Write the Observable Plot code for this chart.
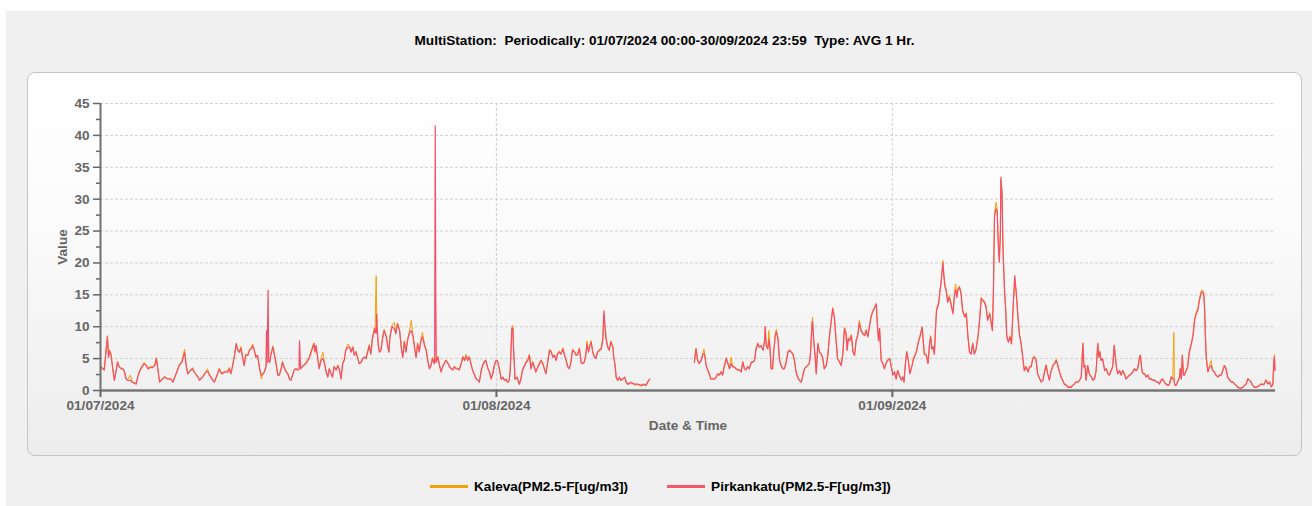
<!DOCTYPE html>
<html><head><meta charset="utf-8">
<script src="https://cdn.jsdelivr.net/npm/d3@7"></script>
<script src="https://cdn.jsdelivr.net/npm/@observablehq/plot@0.6"></script>
<style>
html,body{margin:0;padding:0;background:#fff;}
body{width:1312px;height:506px;position:relative;overflow:hidden;font-family:"Liberation Sans",Arial,sans-serif;}
#bg{position:absolute;left:6px;top:11px;width:1306px;height:495px;background:#f0f0f0;}
#title{position:absolute;left:27px;width:1275px;top:33px;text-align:center;font-weight:bold;font-size:13.6px;color:#000;white-space:pre;}
#panel{position:absolute;left:27px;top:72px;width:1273px;height:382px;border:1px solid #c4c4c4;border-radius:8px;background:linear-gradient(#ffffff 0%,#fbfbfb 40%,#ececec 100%);}
#chart{position:absolute;left:0;top:72px;}
#legend{position:absolute;left:430px;top:478px;height:16px;display:flex;align-items:center;font-weight:bold;font-size:13.6px;color:#000;white-space:pre;}
.sw{display:inline-block;width:38px;height:3px;margin-right:6px;}
</style></head>
<body>
<div id="bg"></div>
<div id="title">MultiStation:  Periodically: 01/07/2024 00:00-30/09/2024 23:59  Type: AVG 1 Hr.</div>
<div id="panel"></div>
<div id="chart"></div>
<div id="legend"><span class="sw" style="background:#f0a20b"></span><span>Kaleva(PM2.5-F[ug/m3])</span><span class="sw" style="background:#f4566c;margin-left:39px"></span><span>Pirkankatu(PM2.5-F[ug/m3])</span></div>
<script>
// hours since 01/07/2024 00:00
const hours = [
1,7,13,15,17,20,23,26,29,32,35,39,42,45,48,51,56,60,67,70,
73,76,82,86,89,94,98,102,105,107,111,114,120,126,132,136,142,148,153,158,
161,164,170,173,176,183,186,192,198,201,205,211,214,220,223,228,233,239,242,245,
248,252,255,258,261,264,267,270,273,277,280,283,286,289,292,295,299,302,305,308,
311,312,313,315,316,318,320,324,327,330,333,336,339,342,346,349,352,355,358,361,
364,367,371,373,374,376,380,386,392,397,401,403,405,408,411,414,418,421,424,427,
430,433,436,439,443,446,449,452,455,458,461,465,468,471,474,477,480,483,486,490,
493,496,499,502,505,508,511,515,516,518,519,520,522,524,527,530,533,537,540,542,
544,548,552,555,558,562,565,568,571,574,577,580,584,587,590,593,596,599,602,605,
609,612,615,618,621,624,627,628,629,630,631,634,637,640,643,646,649,652,656,659,
662,665,668,671,674,678,681,684,687,690,693,696,699,703,706,709,712,715,718,721,
724,728,731,734,737,740,743,746,750,753,756,759,762,765,768,770,773,775,776,779,
783,787,790,793,797,800,803,806,809,812,815,818,822,825,828,831,834,837,840,844,
847,850,853,856,859,862,865,869,872,875,878,881,884,887,891,894,897,900,903,906,
909,912,914,917,919,922,925,928,931,934,938,941,944,946,948,950,953,956,959,963,
964,967,969,972,975,978,981,985,988,991,997,1003,1010,1016,1022,1025,1028,1032,1074,
1116,1119,1122,1125,1129,1132,1134,1136,1138,1141,1144,1147,1154,1157,1160,1163,1166,1169,1172,1176,
1179,1182,1185,1188,1191,1194,1198,1201,1204,1207,1210,1213,1216,1219,1223,1226,1229,1232,1235,1238,
1241,1245,1248,1249,1251,1254,1256,1258,1260,1263,1265,1268,1270,1273,1276,1279,1282,1285,1288,1292,
1295,1298,1301,1304,1307,1310,1313,1317,1320,1323,1326,1329,1332,1334,1337,1338,1340,1343,1345,1348,
1351,1354,1357,1360,1364,1367,1370,1373,1376,1379,1382,1385,1389,1392,1395,1398,1401,1403,1405,1408,
1411,1414,1417,1420,1423,1426,1429,1432,1436,1439,1442,1445,1448,1451,1454,1458,1459,1462,1464,1467,
1470,1473,1476,1479,1483,1486,1489,1492,1495,1498,1501,1505,1508,1510,1512,1515,1518,1521,1525,1528,
1531,1534,1537,1540,1544,1546,1548,1552,1555,1558,1560,1562,1565,1567,1569,1571,1575,1577,1580,1583,
1585,1587,1589,1592,1595,1598,1602,1605,1607,1609,1611,1614,1617,1620,1624,1627,1630,1633,1636,1639,
1642,1645,1649,1652,1655,1658,1661,1664,1667,1671,1674,1676,1678,1680,1683,1685,1687,1689,1691,1692,
1694,1696,1699,1701,1703,1706,1709,1712,1715,1718,1721,1724,1727,1730,1733,1736,1739,1743,1746,1749,
1752,1755,1758,1761,1765,1768,1771,1774,1777,1780,1783,1786,1790,1793,1796,1799,1802,1805,1808,1811,
1815,1818,1824,1827,1830,1833,1837,1840,1843,1846,1848,1850,1852,1855,1858,1862,1865,1868,1871,1874,
1876,1878,1880,1883,1887,1890,1893,1896,1899,1902,1905,1907,1910,1912,1915,1918,1921,1924,1927,1930,
1934,1937,1940,1943,1946,1949,1952,1954,1957,1959,1962,1965,1968,1971,1974,1977,1981,1984,1987,1990,
1993,1996,1999,2002,2006,2009,2012,2015,2017,2018,2019,2021,2024,2028,2029,2031,2033,2035,2037,2040,
2043,2046,2050,2053,2056,2059,2062,2065,2068,2070,2073,2075,2076,2078,2081,2084,2087,2090,2093,2096,
2100,2103,2106,2109,2112,2115,2118,2122,2125,2128,2131,2134,2137,2140,2143,2147,2150,2153,2156,2159,
2162,2165,2168,2172,2175,2178,2181,2184,2187,2190,2194,2197,2200,2203,2205,2206,2207
];
const pirkankatu = [
3.6,3.2,8.4,5.2,6.2,5.5,3.4,1.6,2.9,4.4,3.7,3.4,3.4,2.9,1.8,1.6,1.6,1.3,1.0,2.1,
2.9,3.4,4.2,3.9,3.4,3.6,3.6,3.9,5.0,3.8,1.3,1.6,2.1,1.8,1.8,1.3,2.6,3.9,4.4,6.0,
3.9,2.6,3.2,3.4,2.9,2.1,1.6,2.1,2.9,3.0,2.4,1.6,1.3,2.6,3.3,2.6,2.9,2.9,3.4,2.6,
3.7,5.5,7.3,6.3,6.0,6.6,5.2,3.9,5.5,5.5,6.3,6.5,7.0,6.3,5.2,5.5,3.4,2.4,2.6,2.9,
3.7,9.4,4.4,15.7,4.6,4.4,5.5,6.8,5.5,4.2,2.4,2.4,3.2,4.4,3.4,2.9,2.6,1.8,1.6,2.4,
3.2,3.4,3.2,3.4,7.8,3.4,3.8,4.2,5.0,6.3,7.3,6.0,7.0,5.2,3.4,4.7,5.0,4.2,2.9,2.1,
3.4,2.6,2.1,3.7,3.2,3.9,3.2,1.8,4.2,4.7,6.3,6.8,6.8,6.0,6.8,5.5,6.0,5.2,4.2,4.4,
5.0,5.2,5.0,6.0,7.0,5.7,8.1,9.7,9.1,9.0,12.0,9.4,7.0,6.0,6.3,8.1,9.4,8.4,6.8,6.0,
8.4,10.0,9.7,8.9,10.4,9.4,6.8,5.2,7.6,6.0,7.8,8.9,9.4,8.6,6.8,5.2,7.3,6.0,7.8,8.4,
7.0,6.3,4.7,3.4,3.9,5.0,4.2,4.5,41.5,15.0,4.4,5.2,3.9,2.9,3.7,4.2,4.7,4.4,3.7,3.4,
3.2,3.7,3.4,3.4,3.2,4.2,5.2,4.7,5.3,4.7,5.2,4.2,3.2,2.4,1.8,1.6,1.3,2.9,3.9,4.4,
4.7,3.4,2.9,1.8,2.6,3.9,4.7,4.7,3.2,1.8,2.1,1.6,1.8,1.3,1.6,3.2,9.7,9.8,6.8,1.8,
2.1,1.0,1.8,3.2,3.9,4.4,4.7,5.5,3.4,4.4,3.7,2.9,3.7,4.2,4.7,4.2,3.4,2.6,4.2,6.3,
6.0,5.2,5.5,4.7,5.7,6.0,5.7,6.5,5.5,4.7,3.7,3.4,4.4,6.3,6.0,5.5,5.7,6.5,4.4,4.2,
4.4,5.5,7.3,6.0,6.8,7.6,6.0,5.2,5.0,6.0,6.3,6.5,8.1,12.5,10.0,8.1,6.8,6.3,7.6,6.8,
5.5,3.9,2.1,1.6,2.1,1.6,1.8,2.1,1.3,1.0,1.3,1.0,1.0,0.8,1.0,0.8,1.3,1.8,null,
4.4,6.5,4.7,4.2,4.7,5.7,5.8,5.2,3.9,3.2,2.6,1.8,1.8,2.1,2.6,2.4,2.9,2.4,3.7,5.0,
4.2,3.4,4.2,3.7,3.7,3.4,3.2,3.2,2.9,4.4,3.4,3.2,3.7,3.4,4.4,4.4,4.7,6.5,7.3,6.8,
7.0,6.3,7.8,10.0,7.0,6.5,8.0,6.8,3.4,3.4,6.0,8.6,9.2,8.1,4.7,3.9,3.4,3.4,4.2,6.0,
6.3,6.0,5.7,4.7,2.9,2.1,1.6,1.3,2.4,3.4,3.7,3.9,4.2,5.5,10.4,10.8,8.1,5.2,2.6,7.3,
6.0,5.7,5.2,3.4,3.9,5.7,8.6,10.7,12.8,11.5,8.1,5.0,4.4,3.9,5.7,9.7,8.9,6.3,8.1,7.8,
8.6,6.0,5.5,7.8,8.6,10.6,9.4,8.9,8.6,9.4,8.4,10.0,11.5,12.3,12.8,13.6,11.5,7.8,9.7,4.7,
4.2,3.4,4.2,4.7,5.0,3.7,2.4,2.9,1.8,3.1,2.4,1.6,2.1,1.3,3.7,6.0,4.7,2.6,3.9,5.0,
5.5,6.3,7.6,8.4,9.9,7.8,5.7,5.5,4.2,7.3,8.4,6.5,6.8,5.7,9.4,12.5,13.6,15.2,17.2,20.0,
17.8,16.2,15.7,13.8,14.6,13.6,12.0,15.2,15.8,14.6,15.7,16.2,15.2,12.5,11.5,12.0,8.4,6.0,5.7,7.3,
5.7,6.3,8.4,11.0,14.4,14.1,13.8,13.1,11.0,12.0,10.4,9.4,15.7,27.2,28.5,28.0,23.0,20.1,24.6,33.4,
30.8,21.9,15.2,12.5,8.4,7.6,8.4,7.3,13.1,18.0,15.2,11.5,8.6,7.3,5.2,3.1,3.7,2.9,3.7,3.7,
5.0,5.2,4.7,2.6,1.8,1.3,1.6,2.9,3.9,2.6,1.6,2.9,3.9,4.2,4.7,3.9,2.9,2.1,1.6,1.0,
0.8,0.5,0.5,0.8,1.0,1.3,1.3,1.6,2.1,7.3,3.7,3.9,1.6,3.9,2.6,2.1,1.6,1.8,3.1,7.3,
5.2,6.0,4.7,5.0,3.1,3.4,2.6,2.4,3.1,3.7,7.1,5.2,3.1,2.6,3.1,2.4,3.1,2.6,1.8,2.1,
2.4,2.6,2.9,3.4,3.1,3.4,5.0,5.5,3.1,2.6,2.6,2.1,2.4,1.8,1.8,1.6,1.6,1.3,1.3,1.0,
1.6,1.8,1.3,1.0,0.8,1.0,2.1,1.8,1.8,1.2,0.8,0.8,1.3,2.1,3.4,1.8,5.5,2.4,2.4,3.1,
3.7,6.0,7.3,8.6,11.0,12.0,12.5,14.1,15.2,15.5,15.2,12.5,9.1,5.0,2.9,3.7,3.9,3.1,2.9,2.4,
2.1,2.4,2.4,3.1,3.9,3.4,2.1,1.6,1.3,1.3,1.0,0.8,0.5,0.4,0.3,0.5,0.8,1.0,1.8,1.6,
1.3,0.8,0.5,0.5,0.6,0.8,1.0,0.9,1.0,1.6,1.0,1.3,0.6,1.0,4.7,5.3,3.1
];
const kaleva = [
3.8,3.3,8.6,5.4,6.4,5.6,3.5,1.7,3.0,4.6,3.8,3.5,3.5,3.0,1.9,1.7,2.4,1.4,1.1,2.2,
3.0,3.6,4.4,4.0,3.5,3.8,3.7,4.1,5.2,3.9,1.4,1.7,2.2,1.9,1.9,1.4,2.7,4.1,4.6,6.5,
4.0,2.7,3.3,3.6,3.0,2.2,1.7,2.2,3.0,3.4,2.5,1.7,1.4,2.7,3.5,2.7,3.0,3.1,3.6,2.7,
3.9,5.7,7.4,6.5,6.2,6.9,5.4,4.0,5.7,5.7,6.5,6.7,7.3,6.4,5.3,5.6,3.5,1.8,2.5,3.0,
3.8,4.0,4.5,4.6,4.7,4.5,5.7,7.0,5.6,4.3,2.5,2.5,3.3,4.6,3.5,3.0,2.7,1.9,1.7,2.5,
3.3,3.5,3.3,3.5,3.6,3.5,3.9,4.4,5.2,6.6,7.5,6.2,7.1,5.3,3.5,4.9,6.0,4.3,3.0,2.2,
3.5,2.7,2.2,3.8,3.3,4.0,3.3,1.9,4.4,4.9,6.5,7.3,6.9,6.2,6.9,5.6,6.2,5.3,4.3,4.5,
5.1,5.3,5.2,6.2,7.2,5.8,8.3,9.9,9.3,18.0,12.3,9.6,7.2,6.1,6.4,8.3,9.6,8.6,7.0,6.1,
8.6,10.3,10.7,9.1,10.6,9.6,7.0,5.3,7.8,6.1,8.0,9.1,11.0,8.8,7.0,5.3,7.5,6.2,8.0,9.1,
7.2,6.4,4.8,3.5,4.0,5.2,4.3,4.6,4.6,5.0,4.5,5.4,4.0,3.0,3.8,4.3,4.8,4.5,3.8,3.5,
3.3,3.8,3.5,3.5,3.3,4.4,5.4,4.9,5.7,4.9,5.4,4.3,3.3,2.5,1.9,1.7,1.4,3.0,4.0,4.6,
4.8,3.5,3.0,1.9,2.5,3.8,4.6,4.6,3.1,1.7,2.0,1.5,1.7,1.2,1.5,3.3,9.9,10.2,7.0,1.7,
2.0,0.9,1.7,3.4,4.1,4.6,4.9,5.7,3.5,4.6,3.8,3.0,3.8,4.4,4.8,4.3,3.5,2.7,4.4,6.5,
6.2,5.4,5.6,4.8,5.9,6.2,5.8,6.7,5.7,4.8,3.8,3.5,4.5,6.5,6.1,5.6,5.9,6.7,4.6,4.3,
4.5,5.7,7.8,6.2,7.0,7.8,6.1,5.4,5.3,6.1,6.5,6.7,8.3,12.0,10.2,8.3,7.0,6.4,7.8,6.9,
5.6,4.0,2.0,1.5,2.0,1.5,1.7,2.0,1.2,0.9,1.2,0.9,0.9,0.7,0.9,0.7,1.2,1.7,null,
4.5,6.7,4.8,4.3,4.9,5.9,6.5,5.3,4.0,3.3,2.7,1.9,1.9,2.2,2.7,2.5,3.0,2.5,3.8,5.2,
4.3,3.5,5.2,3.8,3.8,3.5,3.3,3.3,3.0,4.6,3.5,3.3,3.8,3.5,4.5,4.5,4.8,6.7,7.5,6.9,
7.1,6.4,8.0,10.0,7.2,6.6,9.4,6.9,3.5,3.5,6.2,8.8,9.6,8.3,4.8,4.0,3.5,3.5,4.3,6.2,
6.4,6.1,5.8,4.8,3.0,2.2,1.7,1.4,2.5,3.5,3.8,4.0,4.3,5.6,10.6,11.5,8.2,5.3,2.7,7.4,
6.1,5.8,5.3,3.5,4.0,5.9,8.8,11.0,13.0,11.7,8.3,5.1,4.5,4.0,5.9,9.9,9.1,6.4,8.3,8.0,
8.8,6.1,5.6,8.0,8.8,11.0,9.6,9.1,8.8,9.6,8.6,10.2,11.7,12.5,13.0,13.6,11.6,7.9,9.8,4.8,
4.3,3.5,4.3,4.8,5.1,3.8,2.5,3.0,1.9,3.2,2.5,1.7,2.2,1.4,3.8,6.2,4.8,2.7,4.0,5.2,
5.7,6.5,7.8,8.6,10.0,8.0,5.8,5.7,4.3,7.5,8.6,6.7,7.0,5.8,9.6,12.8,13.8,15.4,17.5,20.4,
18.0,16.5,16.0,14.0,14.9,13.8,12.2,15.5,16.7,14.8,16.0,16.4,15.4,12.7,11.7,12.2,8.6,6.1,5.8,7.5,
5.8,6.4,8.6,11.2,14.6,14.3,14.0,13.3,11.2,12.2,10.6,9.6,16.0,27.8,29.5,28.6,23.5,20.5,25.0,33.0,
31.2,22.3,15.5,12.8,8.6,7.8,8.6,7.5,13.0,17.6,15.0,11.7,8.8,7.5,5.3,3.2,3.8,3.0,3.8,3.9,
5.2,5.4,4.8,2.7,1.9,1.4,1.7,3.0,4.1,2.7,1.7,3.0,4.1,4.4,4.9,4.0,3.0,2.2,1.7,1.1,
0.9,0.6,0.6,0.9,1.1,1.4,1.4,1.7,2.2,7.5,3.8,4.0,1.7,4.0,2.7,2.2,1.7,1.9,3.2,7.5,
5.4,6.2,4.8,5.1,3.2,3.5,2.7,2.5,3.2,3.8,7.0,5.3,3.2,2.7,3.2,2.5,3.2,2.7,1.9,2.2,
2.5,2.7,3.0,3.5,3.2,3.5,5.1,5.6,3.2,2.7,2.7,2.2,2.5,1.9,1.9,1.7,1.7,1.4,1.4,1.1,
1.7,1.9,1.4,1.1,0.9,1.1,2.2,1.9,9.1,1.3,0.9,0.9,1.4,2.2,3.5,1.9,5.6,2.5,2.5,3.2,
3.8,6.2,7.5,8.8,11.3,12.3,12.8,14.4,15.5,15.8,15.5,12.7,9.3,5.1,3.0,3.9,4.7,3.2,3.0,2.5,
2.2,2.5,2.5,3.2,4.0,3.5,2.2,1.7,1.4,1.4,1.1,0.9,0.6,0.5,0.4,0.6,0.9,1.1,1.9,1.7,
1.4,0.9,0.6,0.6,0.7,0.9,1.1,1.0,1.1,1.7,1.1,1.4,0.5,0.9,4.9,5.6,3.2
];
const yMajor = [0,5,10,15,20,25,30,35,40,45];
const yMinor = [2.5,7.5,12.5,17.5,22.5,27.5,32.5,37.5,42.5];
const xTickDates = ["2024-07-01","2024-08-01","2024-09-01"];
const xDomain = ["2024-07-01","2024-10-01"];

const t0 = Date.UTC(2024,6,1);
const n = Math.min(hours.length, kaleva.length, pirkankatu.length);
const rows = [];
for (let i = 0; i < n; i++) rows.push({t: new Date(t0 + hours[i]*3600e3), k: kaleva[i], p: pirkankatu[i]});
const xTicks = xTickDates.map(d => new Date(d + "T00:00:00Z"));
const dom = xDomain.map(d => new Date(d + "T00:00:00Z"));

const chart = Plot.plot({
  width: 1312, height: 384,
  marginLeft: 100, marginRight: 37, marginTop: 31, marginBottom: 66,
  style: {background: "transparent", fontFamily: '"Liberation Sans", Arial, sans-serif', fontSize: "13.6px", fontWeight: "bold", color: "#666", overflow: "visible"},
  x: {type: "utc", domain: dom},
  y: {domain: [0, 45]},
  marks: [
    Plot.ruleY(yMajor.slice(1), {stroke: "#cfcfcf", strokeDasharray: "3,2"}),
    Plot.ruleX(xTicks.slice(1), {stroke: "#cfcfcf", strokeDasharray: "3,2"}),
    Plot.line(rows, {x: "t", y: "k", stroke: "#f0a20b", strokeWidth: 1}),
    Plot.line(rows, {x: "t", y: "p", stroke: "#f4506a", strokeWidth: 1.25}),
    Plot.axisY({ticks: yMajor, tickSize: 7, tickPadding: 4, strokeWidth: 1.5, label: "Value", labelAnchor: "center", labelArrow: "none", labelOffset: 43}),
    Plot.axisY({ticks: yMinor, tickSize: 4, strokeWidth: 1.5, tickFormat: () => "", label: null}),
    Plot.ruleX([dom[0]], {stroke: "#707070", strokeWidth: 2}),
    Plot.ruleY([0], {stroke: "#777", strokeWidth: 2.5}),
    Plot.axisX({ticks: xTicks, tickFormat: d3.utcFormat("%d/%m/%Y"), tickSize: 7, tickPadding: 3, strokeWidth: 2, label: "Date & Time", labelAnchor: "center", labelArrow: "none", labelOffset: 39})
  ]
});
document.getElementById("chart").appendChild(chart);
</script>
</body></html>
